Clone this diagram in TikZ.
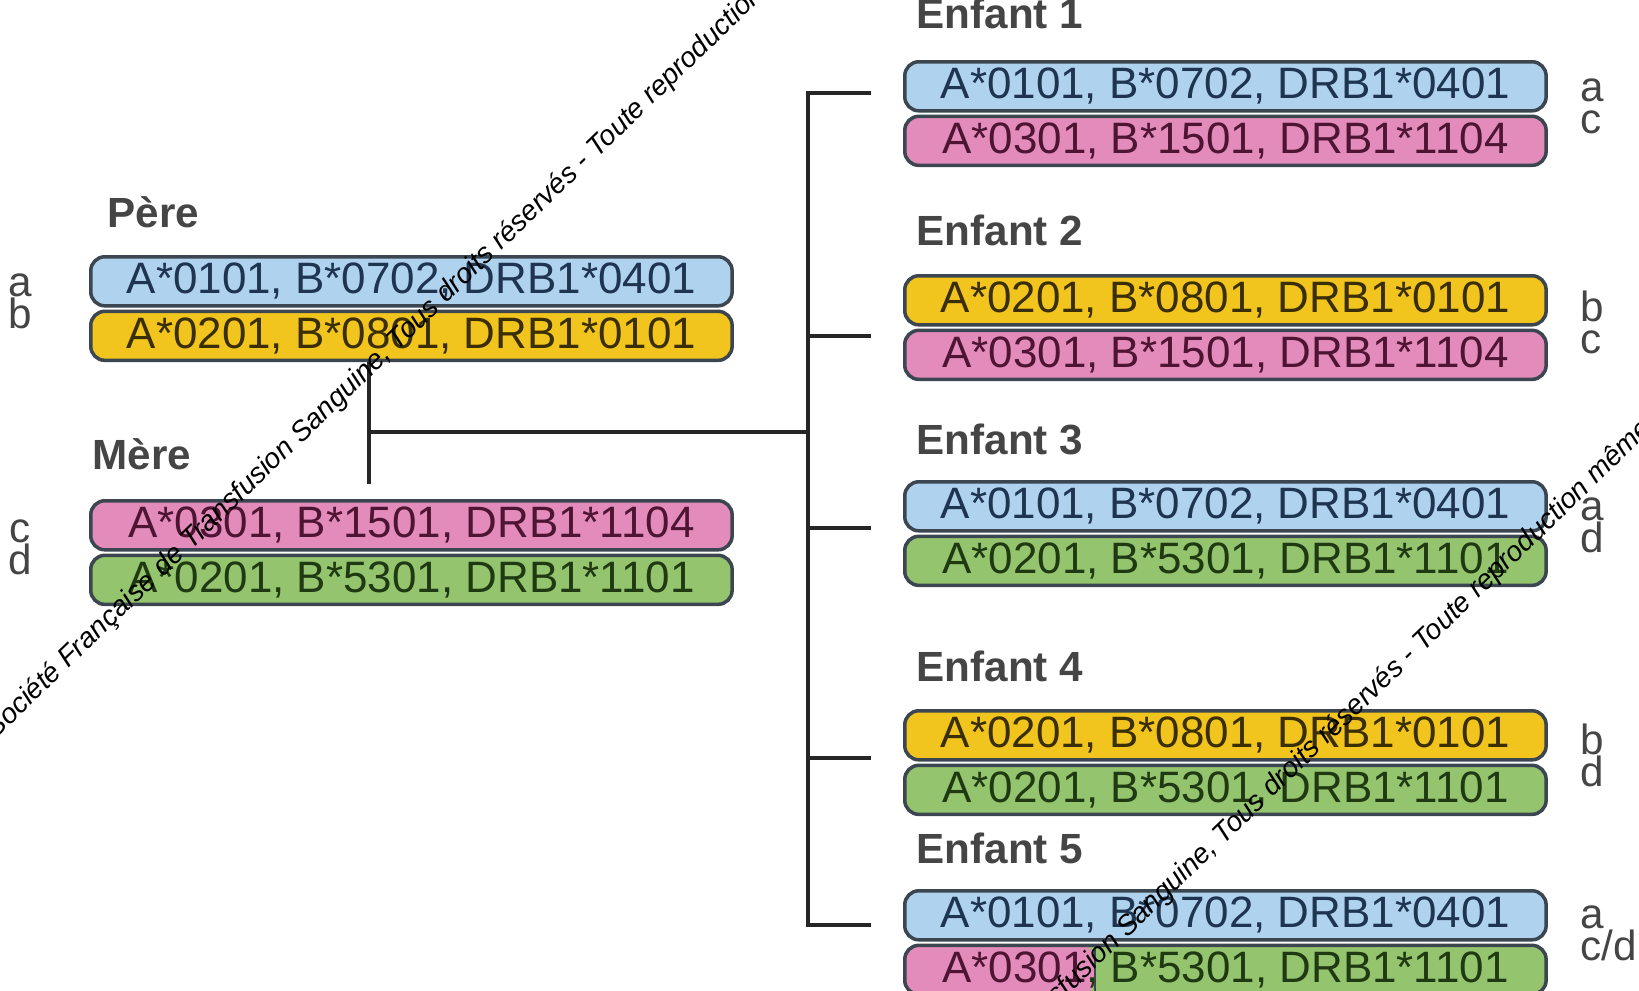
\documentclass[tikz,border=0pt]{standalone}
\usepackage{fontspec}
\setmainfont{Liberation Sans}
\usetikzlibrary{positioning, calc}

\definecolor{hlablue}{HTML}{AFD3EF}
\definecolor{hlayellow}{HTML}{F2C51E}
\definecolor{hlapink}{HTML}{E38CBB}
\definecolor{hlagreen}{HTML}{95C46E}
\definecolor{boxline}{HTML}{3C4650}
\definecolor{txtblue}{HTML}{1E3450}
\definecolor{txtyellow}{HTML}{3A2E05}
\definecolor{txtpink}{HTML}{4E1434}
\definecolor{txtgreen}{HTML}{1F3A12}
\definecolor{labelgray}{HTML}{454545}

\begin{document}
\begin{tikzpicture}[
  x=0.01cm, y=-0.01cm,
  hapbox/.style={draw=boxline, line width=1pt, rounded corners=4pt, minimum width=6.41cm,
    minimum height=0.49cm, inner sep=0pt, anchor=north west, font=\fontsize{12.5}{14}\selectfont},
  hapblue/.style={hapbox, fill=hlablue, text=txtblue},
  hapyellow/.style={hapbox, fill=hlayellow, text=txtyellow},
  happink/.style={hapbox, fill=hlapink, text=txtpink},
  hapgreen/.style={hapbox, fill=hlagreen, text=txtgreen},
  who/.style={anchor=west, inner sep=0pt, text=labelgray, font=\bfseries\fontsize{12}{14}\selectfont},
  letters/.style={inner sep=0pt, align=center, text=labelgray, font=\fontsize{12}{9.2}\selectfont},
  rletters/.style={letters, align=left},
  wire/.style={line width=1.1pt, draw=black!85},
  wmark/.style={anchor=base west, inner sep=0pt, rotate=44, font=\itshape\fontsize{8}{9}\selectfont}
]
  \useasboundingbox (0,0) rectangle (1639,990);

  % Parents
  \node[who] (pere) at (107,212) {Père};
  \node[hapblue] (pere1) at (89,255) {A*0101, B*0702, DRB1*0401};
  \node[hapyellow, below=0.02cm of pere1] (pere2) {A*0201, B*0801, DRB1*0101};
  \node[letters, left=0.56cm of pere1.south west, yshift=0.06cm] (pereab) {a\\b};

  \node[who] (mere) at (92,454) {Mère};
  \node[happink] (mere1) at (89,499) {A*0301, B*1501, DRB1*1104};
  \node[hapgreen, below=0.02cm of mere1] (mere2) {A*0201, B*5301, DRB1*1101};
  \node[letters, left=0.56cm of mere1.south west, yshift=0.04cm] (merecd) {c\\d};

  % Children
  \node[who] (enf1) at (916,13) {Enfant 1};
  \node[hapblue] (e1a) at (903,60) {A*0101, B*0702, DRB1*0401};
  \node[happink, below=0.02cm of e1a] (e1b) {A*0301, B*1501, DRB1*1104};
  \node[rletters, right=0.32cm of e1a.south east, yshift=0.06cm] (e1l) {a\\c};

  \node[who] (enf2) at (916,230) {Enfant 2};
  \node[hapyellow] (e2a) at (903,274) {A*0201, B*0801, DRB1*0101};
  \node[happink, below=0.02cm of e2a] (e2b) {A*0301, B*1501, DRB1*1104};
  \node[rletters, right=0.32cm of e2a.south east, yshift=0.04cm] (e2l) {b\\c};

  \node[who] (enf3) at (916,439) {Enfant 3};
  \node[hapblue] (e3a) at (903,480) {A*0101, B*0702, DRB1*0401};
  \node[hapgreen, below=0.02cm of e3a] (e3b) {A*0201, B*5301, DRB1*1101};
  \node[rletters, right=0.32cm of e3a.south east, yshift=0.07cm] (e3l) {a\\d};

  \node[who] (enf4) at (916,666) {Enfant 4};
  \node[hapyellow] (e4a) at (903,709) {A*0201, B*0801, DRB1*0101};
  \node[hapgreen, below=0.02cm of e4a] (e4b) {A*0201, B*5301, DRB1*1101};
  \node[rletters, right=0.32cm of e4a.south east, yshift=0.06cm] (e4l) {b\\d};

  \node[who] (enf5) at (916,848) {Enfant 5};
  \node[hapblue] (e5a) at (903,889) {A*0101, B*0702, DRB1*0401};
  \node[hapgreen, below=0.02cm of e5a, path picture={
      \fill[hlapink] (path picture bounding box.north west) rectangle
        ([xshift=1.90cm]path picture bounding box.south west);
      \draw[boxline, line width=0.6pt] ([xshift=1.90cm]path picture bounding box.north west) --
        ([xshift=1.90cm]path picture bounding box.south west);}] (e5b)
    {\textcolor{txtpink}{A*0301}, B*5301, DRB1*1101};
  \node[rletters, right=0.32cm of e5a.south east, yshift=0.08cm] (e5l) {a\\c/d};

  % Connectors
  \coordinate (join) at (369,432);
  \coordinate (bus) at (808,432);
  \draw[wire, shorten >=0.15cm] (pere2.south -| join) -- (mere1.north -| join);
  \draw[wire] (join) -- (bus);

  \coordinate (b1) at (871,93);
  \coordinate (b2) at (871,336);
  \coordinate (b3) at (871,528);
  \coordinate (b4) at (871,758);
  \coordinate (b5) at (871,925);
  \draw[wire] (b1) -- (b1 -| bus) -- (b5 -| bus) -- (b5);
  \foreach \b in {b2,b3,b4}
    \draw[wire] (\b -| bus) -- (\b);

  % Watermark
  \begin{scope}
    \clip (0,0) rectangle (1639,990);
    \node[wmark] (wm1) at (-5,740)
      {Société Française de Transfusion Sanguine, Tous droits réservés - Toute reproduction même partielle interdite};
    \node[wmark] (wm2) at (821,1234)
      {Société Française de Transfusion Sanguine, Tous droits réservés - Toute reproduction même partielle interdite};
  \end{scope}
\end{tikzpicture}
\end{document}
